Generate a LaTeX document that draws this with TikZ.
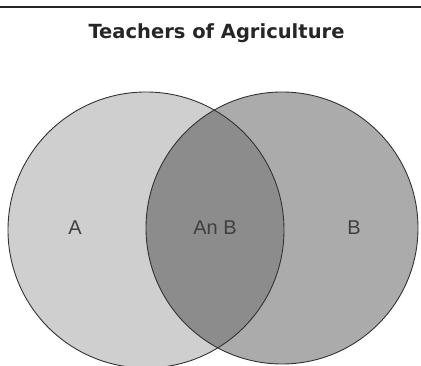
\documentclass[tikz,border=0pt]{standalone}
\usepackage{fontspec}
\setmainfont{Liberation Sans}
\newfontfamily\titlefont{DejaVu Sans}
\definecolor{fillA}{HTML}{CFCFCF}
\definecolor{fillB}{HTML}{ABABAB}
\definecolor{fillAB}{HTML}{8C8C8C}
\begin{document}
\begin{tikzpicture}[x=1pt,y=1pt,
  setA/.style={fill=fillA},
  setB/.style={fill=fillB},
  setAB/.style={fill=fillAB},
  outline/.style={draw=black!80,line width=0.9pt},
  lbl/.style={font=\fontsize{20}{22}\selectfont,text=black!75}]
\useasboundingbox (0,0) rectangle (421,366);
\coordinate (top) at (0,359);
\coordinate (topr) at (421,359);
\draw[black!85,line width=1.6pt] (top) -- (topr);
\node[font=\titlefont\bfseries\fontsize{19.5}{22}\selectfont,text=black!85] (title) at (216.5,333) {Teachers of Agriculture};
% circles
\coordinate (ca) at (146,136);
\coordinate (cb) at (282,138);
\fill[setA] (ca) circle (138);
\fill[setB] (cb) circle (136);
\begin{scope}
  \clip (ca) circle (138);
  \fill[setAB] (cb) circle (136);
\end{scope}
\draw[outline] (ca) circle (138);
\draw[outline] (cb) circle (136);
\node[lbl] (la) at (75,138) {A};
\node[lbl] (lab) at (215,138) {An B};
\node[lbl] (lb) at (354,138) {B};
\end{tikzpicture}
\end{document}
